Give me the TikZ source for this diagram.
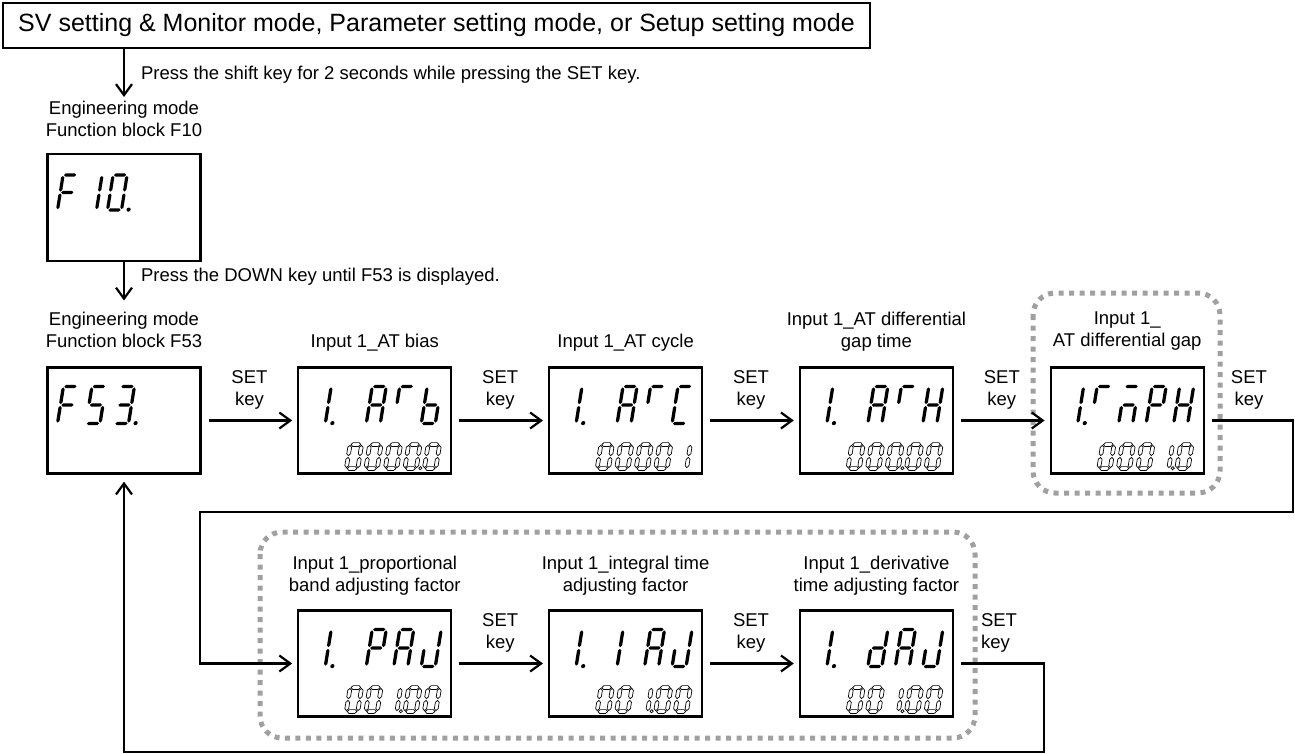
\documentclass[tikz,border=0pt]{standalone}
\usepackage{fontspec}
\setmainfont{Liberation Sans}
\usetikzlibrary{arrows.meta}
\definecolor{dotgray}{RGB}{160,160,160}

% seven-segment helpers
\newcommand\hseg[3]{\path[segsty] ({#1},{#3}) -- ({#1+\sgT},{#3+\sgT}) -- ({#2-\sgT},{#3+\sgT}) -- ({#2},{#3}) -- ({#2-\sgT},{#3-\sgT}) -- ({#1+\sgT},{#3-\sgT}) -- cycle;}
\newcommand\vseg[3]{\path[segsty] ({#1},{#2}) -- ({#1+\sgT},{#2+\sgT}) -- ({#1+\sgT},{#3-\sgT}) -- ({#1},{#3}) -- ({#1-\sgT},{#3-\sgT}) -- ({#1-\sgT},{#2+\sgT}) -- cycle;}
\newcommand\sega{\hseg{\sgG}{\sgW-\sgG}{\sgH}}
\newcommand\segb{\vseg{\sgW}{\sgH/2+\sgG}{\sgH-\sgG}}
\newcommand\segc{\vseg{\sgW}{\sgG}{\sgH/2-\sgG}}
\newcommand\segd{\hseg{\sgG}{\sgW-\sgG}{0}}
\newcommand\sege{\vseg{0}{\sgG}{\sgH/2-\sgG}}
\newcommand\segf{\vseg{0}{\sgH/2+\sgG}{\sgH-\sgG}}
\newcommand\segg{\hseg{\sgG}{\sgW-\sgG}{\sgH/2}}
\newcommand\segp{\fill ({\sgW+7},{0.4}) circle (2.1);}
\newcommand\segq{\draw[line width=0.7pt,fill=white] ({\sgW+4},{0.3}) circle (1.6);}
\newcommand\sevseg[7]{%
  \begin{scope}[shift={({#1},{#2})},x=1pt,y=1pt,xslant=0.16]
    \def\sgW{#3}\def\sgH{#4}\def\sgT{#5}\def\sgG{0.9}%
    \tikzset{segsty/.style={#6}}%
    \edef\seglist{#7}%
    \foreach \s in \seglist {\csname seg\s\endcsname}%
  \end{scope}}
\newcommand\topdig[2]{\sevseg{\bxL+13+27.5*#1}{\bxT+56}{14}{37}{1.65}{bigseg}{#2}}
\newcommand\botdig[2]{\sevseg{\bxL+48+19.5*#1}{\bxT+101}{11.5}{24}{1.9}{smallseg}{#2}}
\def\gZ{a,b,c,d,e,f}
\def\gI{b,c}
\def\gIL{e,f}
\def\gA{a,b,c,e,f,g}
\def\gT{a,f}
\def\gb{c,d,e,f,g}
\def\gC{a,d,e,f}
\def\gH{b,c,e,f,g}
\def\gP{a,b,e,f,g}
\def\gJ{b,c,d,e}
\def\gd{b,c,d,e,g}
\def\gF{a,e,f,g}
\def\gFv{a,c,d,f,g}
\def\gTh{a,b,c,d,g}
\def\gn{a,c,e,g}

\begin{document}
\begin{tikzpicture}[x=1pt,y=-1pt, line width=2.2pt,
  font=\fontsize{18.5}{22}\selectfont,
  dbox/.style={draw, minimum width=153pt, minimum height=106pt, inner sep=0pt},
  lbl/.style={align=center, inner sep=0pt, anchor=north},
  keylbl/.style={above=10.5pt, align=center, inner sep=0pt},
  arr/.style={-{Straight Barb[length=11pt,width=16pt]}, shorten <=7pt, shorten >=5pt},
  grp/.style={draw=dotgray, line width=5pt, dash pattern=on 5pt off 5.5pt, rounded corners=22pt},
  bigseg/.style={fill=black, draw=none},
  smallseg/.style={draw=black, fill=white, line width=0.7pt}]
\useasboundingbox (0,0) rectangle (1295,753);

% dotted groups
\draw[grp] (1033,293) rectangle (1220,493);
\draw[grp] (260,532) rectangle (975,738);

% header
\node[draw, minimum width=867pt, minimum height=45pt, inner sep=0pt, font=\fontsize{25}{30}\selectfont] (hdr) at (436.5,25.5) {SV setting \& Monitor mode, Parameter setting mode, or Setup setting mode};

% labels
\node[lbl] (l10) at (124,100) {Engineering mode\\Function block F10};
\node[lbl] (l53) at (124,310.5) {Engineering mode\\Function block F53};
\node[lbl] (l1) at (374.8,332.5) {Input 1\_AT bias};
\node[lbl] (l2) at (625.6,332.5) {Input 1\_AT cycle};
\node[lbl] (l3) at (876.4,310.5) {Input 1\_AT differential\\gap time};
\node[lbl] (l4) at (1127.2,310.5) {Input 1\_\\AT differential gap};
\node[lbl] (l5) at (374.8,554.5) {Input 1\_proportional\\band adjusting factor};
\node[lbl] (l6) at (625.6,554.5) {Input 1\_integral time\\adjusting factor};
\node[lbl] (l7) at (876.4,554.5) {Input 1\_derivative\\time adjusting factor};

% boxes
\node[dbox, minimum height=107pt] (f10) at (124,207.5) {};
\node[dbox] (b0) at (124,420.5) {};
\node[dbox] (b1) at (374.8,420.5) {};
\node[dbox] (b2) at (625.6,420.5) {};
\node[dbox] (b3) at (876.4,420.5) {};
\node[dbox] (b4) at (1127.2,420.5) {};
\node[dbox] (b5) at (374.8,663.5) {};
\node[dbox] (b6) at (625.6,663.5) {};
\node[dbox] (b7) at (876.4,663.5) {};

% connectors
\draw[arr, shorten <=0pt, shorten >=3pt] (hdr.south -| l10.north) -- node[right=16pt, inner sep=0pt] {Press the shift key for 2 seconds while pressing the SET key.} (l10.north);
\draw[arr, shorten <=0pt, shorten >=10pt] (f10.south) -- node[pos=0.3, right=16pt, inner sep=0pt] {Press the DOWN key until F53 is displayed.} (l53.north);
\draw[arr] (b0) -- node[keylbl] {SET\\key} (b1);
\draw[arr] (b1) -- node[keylbl] {SET\\key} (b2);
\draw[arr] (b2) -- node[keylbl] {SET\\key} (b3);
\draw[arr] (b3) -- node[keylbl] {SET\\key} (b4);
\draw[arr] (b5) -- node[keylbl] {SET\\key} (b6);
\draw[arr] (b6) -- node[keylbl] {SET\\key} (b7);
\coordinate (r1) at (1293,512);
\coordinate (r2) at (200,512);
\draw[arr] (b4.east) -- node[keylbl] {SET\\key} (b4.east -| r1) -- (r1) -- (r2) -- (r2 |- b5.west) -- (b5.west);
\coordinate (r3) at (1044,752);
\draw[arr, shorten >=7pt] (b7.east) -- node[keylbl, align=left] {SET\\key} (b7.east -| r3) -- (r3) -- (r3 -| b0.south) -- (b0.south);

% display F10
\def\bxL{47.5}\def\bxT{154}
\sevseg{\bxL+10}{\bxT+56}{14}{35}{1.6}{bigseg}{\gF}
\sevseg{\bxL+35}{\bxT+56}{14}{35}{1.6}{bigseg}{\gI}
\sevseg{\bxL+60}{\bxT+56}{14}{35}{1.6}{bigseg}{\gZ,p}
% display F53
\def\bxT{367.5}
\sevseg{\bxL+10}{\bxT+56}{14}{37}{1.65}{bigseg}{\gF}
\sevseg{\bxL+38.5}{\bxT+56}{14}{37}{1.65}{bigseg}{\gFv}
\sevseg{\bxL+67}{\bxT+56}{14}{37}{1.65}{bigseg}{\gTh,p}
% display 1 ATb
\def\bxL{298.3}
\topdig{0}{\gI,p}\topdig{2}{\gA}\topdig{3}{\gT}\topdig{4}{\gb}
\botdig{0}{\gZ}\botdig{1}{\gZ}\botdig{2}{\gZ}\botdig{3}{\gZ,q}\botdig{4}{\gZ}
% display 1 ATC
\def\bxL{549.1}
\topdig{0}{\gI,p}\topdig{2}{\gA}\topdig{3}{\gT}\topdig{4}{\gC}
\botdig{0}{\gZ}\botdig{1}{\gZ}\botdig{2}{\gZ}\botdig{3}{\gZ}\botdig{4}{\gI}
% display 1 ATH
\def\bxL{799.9}
\topdig{0}{\gI,p}\topdig{2}{\gA}\topdig{3}{\gT}\topdig{4}{\gH}
\botdig{0}{\gZ}\botdig{1}{\gZ}\botdig{2}{\gZ,q}\botdig{4}{\gZ}\botdig{3}{\gZ}
% display 1.TnPH
\def\bxL{1050.7}
\topdig{0}{\gI,p}\topdig{1}{\gT}\topdig{2}{\gn}\topdig{3}{\gP}\topdig{4}{\gH}
\botdig{0}{\gZ}\botdig{1}{\gZ}\botdig{2}{\gZ}\botdig{3}{\gI,q}\botdig{4}{\gZ}
% row 2
\def\bxT{610.5}
\def\bxL{298.3}
\topdig{0}{\gI,p}\topdig{2}{\gP}\topdig{3}{\gA}\topdig{4}{\gJ}
\botdig{0}{\gZ}\botdig{1}{\gZ}\botdig{2}{\gI,q}\botdig{3}{\gZ}\botdig{4}{\gZ}
\def\bxL{549.1}
\topdig{0}{\gI,p}\topdig{2}{\gIL}\topdig{3}{\gA}\topdig{4}{\gJ}
\botdig{0}{\gZ}\botdig{1}{\gZ}\botdig{2}{\gI,q}\botdig{3}{\gZ}\botdig{4}{\gZ}
\def\bxL{799.9}
\topdig{0}{\gI,p}\topdig{2}{\gd}\topdig{3}{\gA}\topdig{4}{\gJ}
\botdig{0}{\gZ}\botdig{1}{\gZ}\botdig{2}{\gI,q}\botdig{3}{\gZ}\botdig{4}{\gZ}
\end{tikzpicture}
\end{document}
